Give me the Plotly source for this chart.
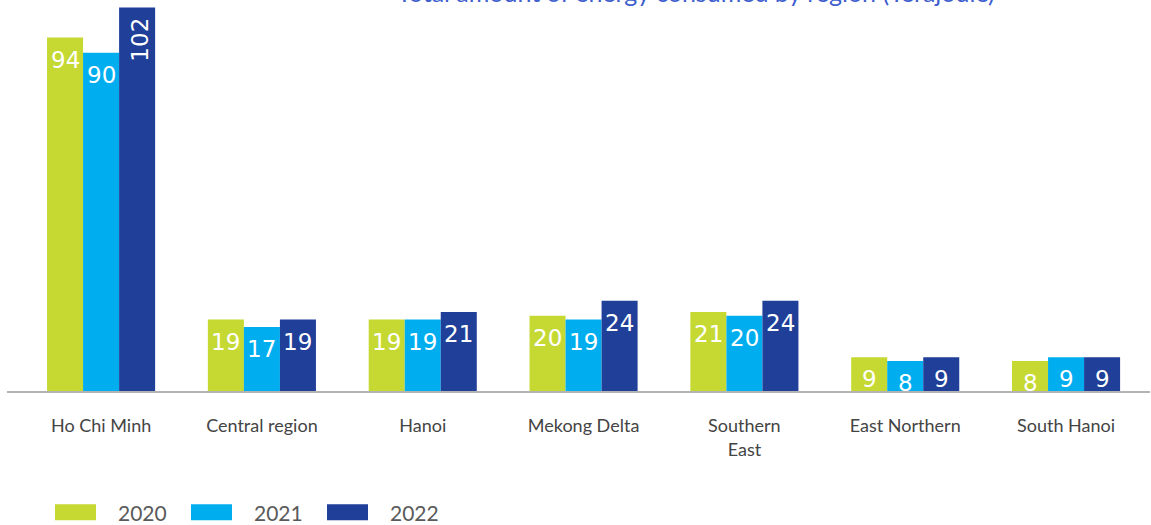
import plotly.graph_objects as go

# Energy consumption by region, in terajoules
regions = ["Ho Chi Minh", "Central region", "Hanoi", "Mekong Delta",
           "Southern East", "East Northern", "South Hanoi"]
region_labels = ["Ho Chi Minh", "Central region", "Hanoi", "Mekong Delta",
                 "Southern<br>East", "East Northern", "South Hanoi"]
years = ["2020", "2021", "2022"]
values_2020 = [94, 19, 19, 20, 21, 9, 8]
values_2021 = [90, 17, 19, 19, 20, 8, 9]
values_2022 = [102, 19, 21, 24, 24, 9, 9]
series = [values_2020, values_2021, values_2022]
colors = ["#c5d932", "#00aeef", "#1f3f99"]

title_text = "Total amount of energy consumed by region (Terajoule)"

W, H = 1151, 525
ML, MR, MT, MB = 7, 1, 0, 133.5
X_RANGE = [-0.585, 6.522]
BARGAP = 0.328


def px_x(px):
    return (px - ML) / (W - ML - MR)


def px_y(py):
    return (H - MB - py) / (H - MT - MB)


# pixel width of one bar, used to centre value labels over their bar
cat_px = (W - ML - MR) / (X_RANGE[1] - X_RANGE[0])
bar_px = (1 - BARGAP) * cat_px / len(years)

fig = go.Figure()
annotations = []
for k, (year, vals, col) in enumerate(zip(years, series, colors)):
    fig.add_trace(go.Bar(
        x=regions, y=vals, name=year,
        marker=dict(color=col, line=dict(width=0)),
        showlegend=False,
    ))
    offset = (k - 1) * bar_px
    for region, v in zip(regions, vals):
        rotated = len(str(v)) > 2
        annotations.append(dict(
            text=str(v), x=region, y=v, xref="x", yref="y",
            xanchor="center", yanchor="top",
            xshift=offset + (2 if rotated else 0), yshift=-8 if rotated else -7,
            textangle=-90 if rotated else 0,
            showarrow=False,
            font=dict(family="DejaVu Sans", size=23, color="white"),
        ))

# Legend drawn as wide swatches with labels beside them
shapes = []
for i, (year, col) in enumerate(zip(years, colors)):
    x0 = 55 + i * 136
    shapes.append(dict(type="rect", xref="paper", yref="paper",
                       x0=px_x(x0), x1=px_x(x0 + 41), y0=px_y(521), y1=px_y(505),
                       fillcolor=col, line=dict(width=0)))
    annotations.append(dict(text=year, xref="paper", yref="paper",
                            x=px_x(x0 + 61), y=px_y(513), xanchor="left", yanchor="middle",
                            showarrow=False,
                            font=dict(family="Lato", size=21, color="#5a5a5a")))

annotations.append(dict(text=title_text, xref="paper", yref="paper",
                        x=px_x(696), y=1, xanchor="center", yanchor="middle", yshift=8,
                        showarrow=False,
                        font=dict(family="Lato", size=25, color="#3f5fcf")))

fig.update_layout(
    width=W, height=H,
    margin=dict(l=ML, r=MR, t=MT, b=MB),
    paper_bgcolor="white", plot_bgcolor="white",
    barmode="group", bargap=BARGAP, bargroupgap=0,
    xaxis=dict(range=X_RANGE, tickmode="array", tickvals=regions,
               ticktext=region_labels, showline=True, linecolor="#b4b4b4",
               linewidth=1.5, ticks="outside", ticklen=18, tickcolor="rgba(0,0,0,0)",
               tickfont=dict(family="Lato", size=18, color="#444444"),
               showgrid=False, zeroline=False, fixedrange=True),
    yaxis=dict(range=[0, 104], visible=False, showgrid=False, zeroline=False),
    shapes=shapes, annotations=annotations,
)

fig.write_html("out.html")
